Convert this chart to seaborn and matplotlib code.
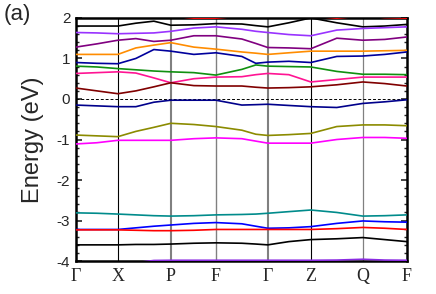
import matplotlib

matplotlib.use("Agg")
import matplotlib.pyplot as plt
import numpy as np
import pandas as pd
import seaborn as sns

# k-path positions (relative path length) and high-symmetry labels
k_path = [0, 21, 42, 60, 78, 95, 118, 140, 166, 180, 192, 213, 235, 261, 287, 309, 331]
sym_pos = [0, 42, 95, 140, 192, 235, 287, 331]
sym_labels = ["Γ", "X", "P", "F", "Γ", "Z", "Q", "F"]

# band energies (eV) read at each k_path point
red_top = [2.30, 2.30, 2.25, 2.20, 2.10, 2.05, 1.995, 1.995, 2.05, 2.12, 2.15, 2.10, 2.05, 1.995, 2.05, 2.01, 1.995]
black_top = [1.80, 1.80, 1.80, 1.87, 1.92, 1.82, 1.83, 1.86, 1.85, 1.81, 1.78, 1.88, 2.00, 1.88, 1.78, 1.80, 1.84]
violet = [1.64, 1.63, 1.61, 1.62, 1.63, 1.67, 1.75, 1.78, 1.72, 1.67, 1.64, 1.59, 1.56, 1.70, 1.74, 1.76, 1.78]
purple = [1.28, 1.36, 1.45, 1.49, 1.42, 1.45, 1.56, 1.56, 1.48, 1.37, 1.27, 1.26, 1.24, 1.50, 1.45, 1.47, 1.53]
orange = [1.10, 1.10, 1.10, 1.26, 1.33, 1.39, 1.28, 1.23, 1.16, 1.13, 1.10, 1.14, 1.18, 1.18, 1.18, 1.19, 1.20]
navy_up = [0.90, 0.88, 0.87, 1.00, 1.22, 1.18, 1.10, 1.14, 1.05, 0.88, 0.91, 0.93, 0.90, 1.05, 1.06, 1.10, 1.16]
green = [0.81, 0.79, 0.75, 0.72, 0.69, 0.67, 0.65, 0.59, 0.73, 0.84, 0.81, 0.80, 0.79, 0.68, 0.61, 0.61, 0.60]
pink = [0.63, 0.65, 0.67, 0.64, 0.52, 0.40, 0.50, 0.54, 0.55, 0.60, 0.63, 0.60, 0.42, 0.48, 0.54, 0.54, 0.54]
maroon = [0.27, 0.20, 0.13, 0.20, 0.30, 0.40, 0.33, 0.32, 0.32, 0.29, 0.27, 0.28, 0.30, 0.35, 0.42, 0.38, 0.32]
navy_vb = [-0.15, -0.17, -0.19, -0.19, -0.08, -0.03, -0.03, -0.03, -0.15, -0.14, -0.13, -0.16, -0.19, -0.21, -0.11, -0.07, -0.02]
olive = [-0.89, -0.91, -0.93, -0.80, -0.70, -0.60, -0.63, -0.68, -0.77, -0.87, -0.90, -0.88, -0.85, -0.68, -0.64, -0.64, -0.66]
magenta = [-1.11, -1.08, -1.02, -1.02, -1.02, -1.02, -0.98, -0.96, -0.98, -1.04, -1.09, -1.09, -1.09, -1.00, -0.95, -0.95, -0.97]
teal = [-2.81, -2.82, -2.84, -2.86, -2.88, -2.89, -2.88, -2.86, -2.85, -2.84, -2.82, -2.78, -2.74, -2.80, -2.89, -2.88, -2.86]
blue = [-3.22, -3.22, -3.22, -3.18, -3.14, -3.11, -3.07, -3.05, -3.08, -3.14, -3.19, -3.18, -3.15, -3.07, -3.01, -3.03, -3.04]
red_low = [-3.23, -3.23, -3.23, -3.24, -3.25, -3.25, -3.24, -3.22, -3.22, -3.22, -3.22, -3.22, -3.22, -3.20, -3.17, -3.19, -3.22]
black_low = [-3.60, -3.60, -3.60, -3.59, -3.59, -3.58, -3.56, -3.55, -3.56, -3.58, -3.60, -3.52, -3.47, -3.45, -3.42, -3.47, -3.52]
violet_low = [-4.15, -4.12, -4.10, -4.04, -3.985, -3.98, -3.98, -3.98, -3.98, -3.98, -3.98, -3.98, -3.98, -3.975, -3.955, -3.975, -3.98]

bands = {
    "red_top": (red_top, "#ff0000"),
    "black_top": (black_top, "#000000"),
    "violet": (violet, "#9933ff"),
    "purple": (purple, "#800080"),
    "orange": (orange, "#ff8c00"),
    "navy_up": (navy_up, "#00009c"),
    "green": (green, "#109010"),
    "pink": (pink, "#ff1493"),
    "maroon": (maroon, "#800000"),
    "navy_vb": (navy_vb, "#00008b"),
    "olive": (olive, "#8b8b00"),
    "magenta": (magenta, "#ff00ff"),
    "teal": (teal, "#008b8b"),
    "blue": (blue, "#0000ff"),
    "red_low": (red_low, "#ff0000"),
    "black_low": (black_low, "#000000"),
    "violet_low": (violet_low, "#8a2be2"),
}

rows = []
for name, (vals, _) in bands.items():
    for k, e in zip(k_path, vals):
        rows.append({"band": name, "k": k, "E": e})
df = pd.DataFrame(rows)
palette = {name: c for name, (_, c) in bands.items()}

sns.set_style("white")
plt.rcParams["font.family"] = ["Liberation Sans", "DejaVu Sans"]

fig = plt.figure(figsize=(4.36, 2.94), dpi=100)
ax = fig.add_axes([0.174, 0.112, 0.759, 0.827])

# high-symmetry vertical lines
line_style = {
    1: ("#000000", 0.8), 5: ("#000000", 0.8),
    2: ("#808080", 1.5), 4: ("#808080", 1.5),
    3: ("#808080", 1.0), 6: ("#808080", 0.9),
}
for i, (c, lw) in line_style.items():
    ax.axvline(sym_pos[i], color=c, lw=lw, zorder=1)

ax.axhline(0, color="black", lw=0.7, ls=(0, (3, 2)), zorder=1)

sns.lineplot(data=df, x="k", y="E", hue="band", palette=palette, sort=False,
             estimator=None, legend=False, lw=1.2, ax=ax, zorder=2)

ax.set_xlim(sym_pos[0], sym_pos[-1])
ax.set_ylim(-4, 2)
ax.set_xticks(sym_pos)
ax.set_xticklabels(sym_labels, family=["Liberation Serif", "DejaVu Serif"], fontsize=13)
ax.set_yticks(np.arange(-4, 3, 1))
ax.set_yticklabels(["-4", "-3", "-2", "-1", "0", "1", "2"], fontsize=11)
ax.set_yticks(np.arange(-4, 2.01, 0.2), minor=True)
ax.tick_params(axis="x", length=0, pad=5)
ax.tick_params(axis="y", which="major", direction="in", length=4, width=1.2,
               right=True, left=True, pad=4)
ax.tick_params(axis="y", which="minor", direction="in", length=2.5, width=1.0,
               right=True, left=True)
ax.set_xlabel("")
ax.set_ylabel("Energy (eV)", fontsize=17, labelpad=9)
for s in ax.spines.values():
    s.set_linewidth(1.8)
    s.set_color("black")
    s.set_zorder(1.5)

fig.text(0.008, 0.985, "(a)", fontsize=16, va="top", ha="left")

fig.savefig("out.png", dpi=100)
